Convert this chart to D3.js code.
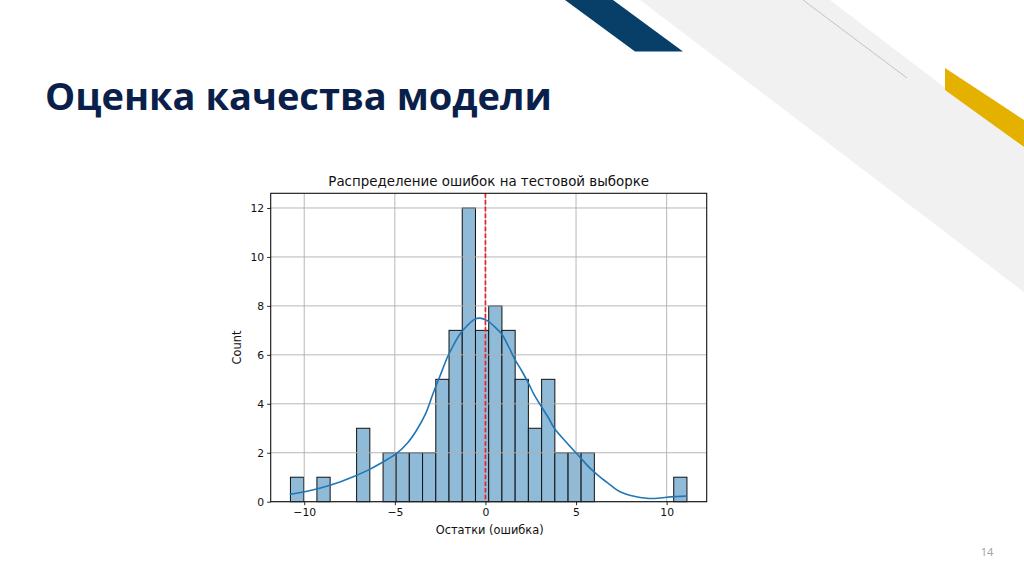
<!DOCTYPE html>
<html><head><meta charset="utf-8">
<script src="https://cdn.jsdelivr.net/npm/d3@7"></script>
<style>html,body{margin:0;padding:0;background:#fff;overflow:hidden}</style>
</head><body>
<svg id="s" width="1024" height="574"></svg>
<script>
// ---- data ----
const slideTitle = "Оценка качества модели";
const chartTitle = "Распределение ошибок на тестовой выборке";
const xLabel = "Остатки (ошибка)";
const yLabel = "Count";
const pageNumber = "14";
const binEdges = [-10.76,-10.03,-9.30,-8.57,-7.84,-7.11,-6.38,-5.65,-4.93,-4.20,-3.47,-2.74,-2.01,-1.28,-0.55,0.18,0.91,1.64,2.37,3.10,3.83,4.56,5.28,6.01,6.74,7.47,8.20,8.93,9.66,10.39,11.12];
const binCounts = [1,0,1,0,0,3,0,2,2,2,2,5,7,12,7,8,7,5,3,5,2,2,2,0,0,0,0,0,0,1];
const kdeX = [-10.8,-9.9,-9.1,-8.2,-7.3,-6.5,-5.8,-4.9,-4.3,-3.8,-3.3,-2.9,-2.5,-2.1,-1.8,-1.4,-1.0,-0.6,-0.3,0.1,0.5,0.9,1.3,1.6,2.0,2.4,2.7,3.1,3.5,3.8,4.5,5.2,5.8,6.3,6.9,7.4,8.2,8.9,9.5,10.0,10.6,11.1];
const kdeY = [0.30,0.42,0.56,0.76,1.02,1.28,1.56,1.97,2.40,2.92,3.60,4.40,5.15,5.90,6.35,6.85,7.20,7.45,7.50,7.40,7.15,6.85,6.30,5.85,5.35,4.80,4.35,3.87,3.40,3.00,2.40,1.83,1.35,1.02,0.68,0.42,0.22,0.14,0.14,0.18,0.21,0.23];
const meanLineX = [0];
const xTicks = [-10,-5,0,5,10];
const yTicks = [0,2,4,6,8,10,12];
const xDomain = [-11.85, 12.21];
const yDomain = [0, 12.6];

const svg = d3.select("#s");

// ---- slide decorations ----
svg.append("polygon").attr("points","640,0 830,0 1024,148 1024,292").attr("fill","#f1f1f1");
svg.append("line").attr("x1",803).attr("y1",0).attr("x2",907).attr("y2",78).attr("stroke","#b8b8b8").attr("stroke-width",0.8);
svg.append("polygon").attr("points","565,0 613,0 683,51.5 635,51.5").attr("fill","#073f69");
svg.append("polygon").attr("points","945,68 1024,120 1024,147 945,90").attr("fill","#e5b100");

svg.append("text").attr("x",45).attr("y",110).attr("font-family","Open Sans, sans-serif")
  .attr("font-weight","bold").attr("font-size",38).attr("fill","#0b1f4b")
  .attr("textLength",507).attr("lengthAdjust","spacingAndGlyphs").text(slideTitle);

svg.append("text").attr("x",987).attr("y",556).attr("text-anchor","middle")
  .attr("font-family","Open Sans, sans-serif").attr("font-size",11).attr("fill","#a0a0a0").text(pageNumber);

// ---- chart ----
const L=270.7, R=706.7, T=193.3, B=501.7;
const x = d3.scaleLinear().domain(xDomain).range([L,R]);
const y = d3.scaleLinear().domain(yDomain).range([B,T]);
const font = "DejaVu Sans, sans-serif";

const g = svg.append("g");

// bars
const bins = binCounts.map((c,i)=>({x0:binEdges[i], x1:binEdges[i+1], c})).filter(d=>d.c>0);
g.selectAll("rect.bar").data(bins).enter().append("rect").attr("class","bar")
  .attr("x",d=>x(d.x0)).attr("width",d=>x(d.x1)-x(d.x0))
  .attr("y",d=>y(d.c)).attr("height",d=>y(0)-y(d.c))
  .attr("fill","#8fbbd9").attr("stroke","#111").attr("stroke-width",1);

// grid
g.selectAll("line.gx").data(xTicks).enter().append("line")
  .attr("x1",d=>x(d)).attr("x2",d=>x(d)).attr("y1",T).attr("y2",B)
  .attr("stroke","#b0b0b0").attr("stroke-width",0.9);
g.selectAll("line.gy").data(yTicks).enter().append("line")
  .attr("x1",L).attr("x2",R).attr("y1",d=>y(d)).attr("y2",d=>y(d))
  .attr("stroke","#b0b0b0").attr("stroke-width",0.9);

// kde
const kde = kdeX.map((v,i)=>[v,kdeY[i]]);
g.append("path").datum(kde).attr("fill","none").attr("stroke","#1f77b4").attr("stroke-width",1.6)
  .attr("d", d3.line().x(d=>x(d[0])).y(d=>y(d[1])).curve(d3.curveCatmullRom));

// mean line
g.selectAll("line.mean").data(meanLineX).enter().append("line")
  .attr("x1",d=>x(d)).attr("x2",d=>x(d)).attr("y1",T).attr("y2",B)
  .attr("stroke","#e8202a").attr("stroke-width",1.7).attr("stroke-dasharray","4.5,2.2");

// axes
const xAxis = d3.axisBottom(x).tickValues(xTicks).tickSize(3.5).tickPadding(3)
  .tickFormat(d=>d<0?"\u2212"+Math.abs(d):d);
const yAxis = d3.axisLeft(y).tickValues(yTicks).tickSize(3.5).tickPadding(3);
const ax = svg.append("g").attr("transform",`translate(0,${B})`).call(xAxis);
const ay = svg.append("g").attr("transform",`translate(${L},0)`).call(yAxis);
[ax,ay].forEach(a=>{
  a.select(".domain").remove();
  a.selectAll("line").attr("stroke","#111").attr("stroke-width",0.9);
  a.selectAll("text").attr("font-family",font).attr("font-size",10.8).attr("fill","#111");
});

// frame
svg.append("rect").attr("x",L).attr("y",T).attr("width",R-L).attr("height",B-T)
  .attr("fill","none").attr("stroke","#111").attr("stroke-width",1.1);

// labels
svg.append("text").attr("x",(L+R)/2).attr("y",186).attr("text-anchor","middle")
  .attr("font-family",font).attr("font-size",13.4).attr("fill","#111").text(chartTitle);
svg.append("text").attr("x",(L+R)/2+1).attr("y",534).attr("text-anchor","middle")
  .attr("font-family",font).attr("font-size",11.4).attr("fill","#111").text(xLabel);
svg.append("text").attr("transform",`translate(241,${(T+B)/2}) rotate(-90)`).attr("text-anchor","middle")
  .attr("font-family",font).attr("font-size",11.4).attr("fill","#111").text(yLabel);
</script>
</body></html>
